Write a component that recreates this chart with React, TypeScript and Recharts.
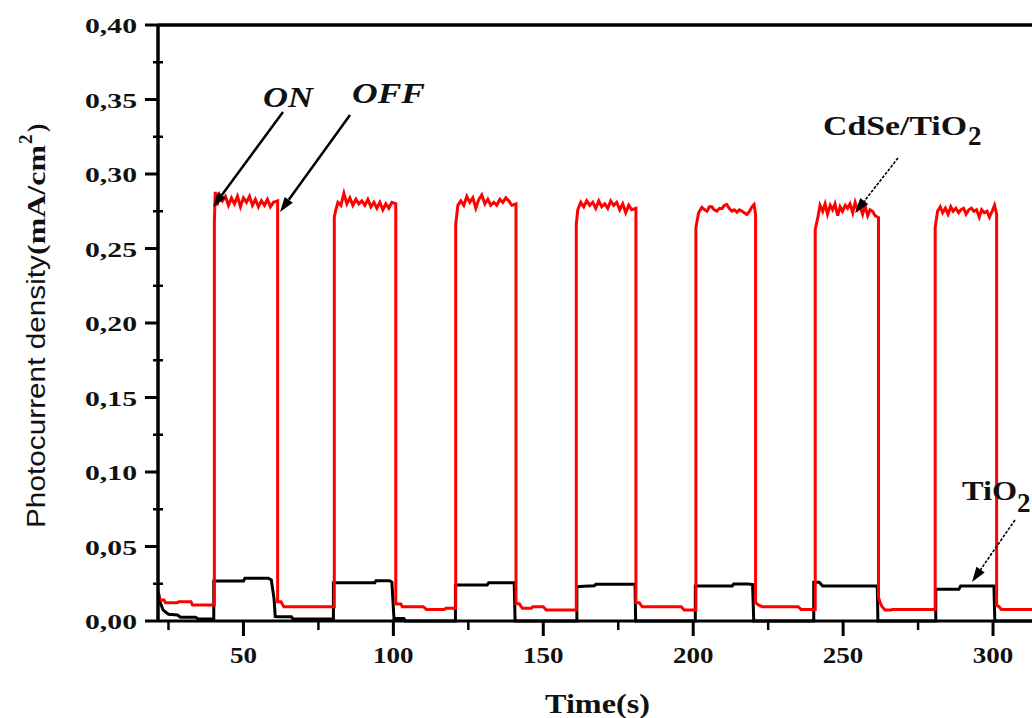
import { LineChart, Line, XAxis, YAxis, ReferenceLine } from "recharts"

type Pt = [number, number]

// axis ticks (major every 0.05 / 50 s, minor in between)
const yTicks = [0, 0.025, 0.05, 0.075, 0.1, 0.125, 0.15, 0.175, 0.2, 0.225, 0.25, 0.275, 0.3, 0.325, 0.35, 0.375, 0.4]
const xTicks = [25, 50, 75, 100, 125, 150, 175, 200, 225, 250, 275, 300]

// CdSe/TiO2 photocurrent (red), light on 40-60, 80-100, ... 280-300 s
const cdseDark0: Pt[] = [[21.6, 0.019], [22, 0.0141], [23.5, 0.0141], [24, 0.0123], [28, 0.0123], [28.5, 0.013], [32.5, 0.013], [33, 0.0107], [40.3, 0.0107]]
const cdseOn1: Pt[] = [[40.3, 0.268], [40.6, 0.288], [41.2, 0.279], [42, 0.286], [43, 0.282], [44, 0.285], [45, 0.279], [46, 0.284], [47, 0.28], [48, 0.285], [49, 0.278], [50, 0.284], [51, 0.281], [52, 0.285], [53, 0.279], [54, 0.283], [55, 0.278], [56, 0.282], [57, 0.279], [58, 0.283], [59, 0.278], [60, 0.281], [61.4, 0.282]]
const cdseDark1: Pt[] = [[61.4, 0.013], [62.5, 0.013], [63.5, 0.0096], [80.3, 0.0096]]
const cdseOn2: Pt[] = [[80.3, 0.271], [80.8, 0.276], [81.5, 0.281], [82.5, 0.279], [83.5, 0.287], [84.5, 0.28], [85.5, 0.284], [86.5, 0.279], [87.5, 0.283], [88.5, 0.28], [89.5, 0.282], [90.5, 0.279], [91.5, 0.283], [92.5, 0.278], [93.5, 0.281], [94.5, 0.277], [95.5, 0.281], [96.5, 0.276], [97.5, 0.28], [98.5, 0.277], [99.5, 0.281], [100.8, 0.28]]
const cdseDark2: Pt[] = [[100.8, 0.0114], [102.5, 0.0114], [103, 0.0096], [110, 0.0096], [111, 0.0078], [117, 0.0078], [117.5, 0.0085], [120.8, 0.0085]]
const cdseOn3: Pt[] = [[120.8, 0.266], [121.5, 0.279], [122.5, 0.282], [123.5, 0.279], [124.5, 0.285], [125.5, 0.281], [126.5, 0.284], [127.5, 0.277], [128.5, 0.283], [129.5, 0.286], [130.5, 0.28], [131.5, 0.283], [132.5, 0.279], [133.5, 0.281], [134.5, 0.279], [135.5, 0.283], [136.5, 0.281], [137.5, 0.284], [138.5, 0.282], [139.5, 0.279], [140.9, 0.28]]
const cdseDark3: Pt[] = [[140.9, 0.0116], [142, 0.0116], [143, 0.0085], [146, 0.0085], [146.5, 0.0096], [150, 0.0096], [151, 0.0074], [161, 0.0074]]
const cdseOn4: Pt[] = [[161, 0.266], [161.5, 0.276], [162.5, 0.281], [163.5, 0.278], [164.5, 0.282], [165.5, 0.279], [166.5, 0.281], [167.5, 0.277], [168.5, 0.282], [169.5, 0.278], [170.5, 0.28], [171.5, 0.277], [172.5, 0.282], [173.5, 0.279], [174.5, 0.281], [175.5, 0.276], [176.5, 0.28], [177.5, 0.274], [178.5, 0.279], [179.5, 0.276], [180.9, 0.277]]
const cdseDark4: Pt[] = [[180.9, 0.0123], [182, 0.0123], [183, 0.0096], [196, 0.0096], [197, 0.0074], [200.9, 0.0074]]
const cdseOn5: Pt[] = [[200.9, 0.264], [201.8, 0.274], [202.9, 0.2776], [203.8, 0.276], [204.6, 0.2751], [205.4, 0.278], [206.2, 0.278], [207, 0.276], [207.9, 0.2751], [208.8, 0.277], [209.6, 0.2767], [210.4, 0.279], [211.2, 0.2795], [212, 0.277], [212.9, 0.2751], [213.7, 0.276], [214.6, 0.2744], [215.4, 0.276], [216.2, 0.2751], [217, 0.274], [217.9, 0.2728], [218.8, 0.275], [219.6, 0.278], [220.3, 0.2795], [220.8, 0.2728]]
const cdseDark5: Pt[] = [[220.8, 0.0123], [222, 0.0105], [223, 0.0096], [235, 0.0096], [236, 0.0078], [240.7, 0.0078]]
const cdseOn6: Pt[] = [[240.7, 0.263], [241.5, 0.27], [242.3, 0.279], [243.2, 0.275], [244, 0.28], [244.8, 0.273], [245.7, 0.279], [246.5, 0.276], [247.3, 0.28], [248.2, 0.272], [249, 0.278], [249.8, 0.275], [250.7, 0.279], [251.5, 0.277], [252.3, 0.28], [253.2, 0.274], [254, 0.281], [254.8, 0.276], [255.7, 0.278], [256.5, 0.273], [257.3, 0.279], [258.2, 0.272], [259, 0.276], [259.8, 0.275], [260.7, 0.272], [261.8, 0.2707]]
const cdseDark6: Pt[] = [[261.8, 0.016], [262.3, 0.0125], [263, 0.0096], [264, 0.0074], [266, 0.0074], [266.5, 0.0078], [280.7, 0.0078]]
const cdseOn7: Pt[] = [[280.7, 0.264], [281.5, 0.275], [282.4, 0.278], [283.2, 0.274], [284.1, 0.277], [285, 0.273], [285.9, 0.278], [286.7, 0.275], [287.6, 0.277], [288.5, 0.274], [289.3, 0.276], [290.2, 0.277], [291, 0.273], [291.9, 0.276], [292.8, 0.277], [293.6, 0.275], [294.5, 0.276], [295.4, 0.271], [296.2, 0.276], [297.1, 0.274], [298, 0.275], [298.8, 0.271], [299.7, 0.275], [300.5, 0.279], [301.2, 0.273]]
const cdseDark7: Pt[] = [[301.2, 0.0105], [302, 0.0096], [302.8, 0.0078], [320, 0.0078]]

// bare TiO2 photocurrent (black)
const tioDark0: Pt[] = [[21.6, 0.0197], [22.3, 0.012], [23.2, 0.0074], [24, 0.006], [25, 0.0045], [28, 0.004], [29, 0.0025], [34, 0.0025], [35, 0.0013], [40.1, 0.0013]]
const tioCycle1: Pt[] = [[40.1, 0.0268], [50, 0.0268], [50.5, 0.0287], [58.3, 0.0287], [59.3, 0.0275], [60.2, 0.015], [60.6, 0.003], [62, 0.0029], [66, 0.0029], [66.5, 0.0013], [80, 0.0013]]
const tioCycle2: Pt[] = [[80, 0.0257], [93.8, 0.0257], [94.2, 0.027], [98.8, 0.027], [99.5, 0.026], [100.2, 0.0017], [103.5, 0.0017], [104, 0], [120.7, 0]]
const tioCycle3: Pt[] = [[120.7, 0.0242], [131.3, 0.0242], [131.8, 0.0257], [140.3, 0.0257], [140.6, 0], [161.2, 0]]
const tioCycle4: Pt[] = [[161.2, 0.0226], [162, 0.0232], [167, 0.0236], [167.5, 0.0246], [180.6, 0.0246], [180.8, 0], [200.7, 0]]
const tioCycle5: Pt[] = [[200.7, 0.0235], [213, 0.0235], [213.5, 0.0248], [218.3, 0.0248], [219.8, 0.0245], [220.2, 0], [240.2, 0]]
const tioCycle6: Pt[] = [[240.2, 0.026], [242, 0.026], [243.2, 0.0235], [261.4, 0.0235], [261.6, 0], [280.9, 0]]
const tioCycle7: Pt[] = [[280.9, 0.0213], [288.6, 0.0213], [289.2, 0.0235], [300.3, 0.0235], [300.6, 0], [320, 0]]

const toRows = (pts: Pt[]) => pts.map(([t, v]) => ({ t, v }))

const cdseData = toRows([
  ...cdseDark0, ...cdseOn1, ...cdseDark1, ...cdseOn2, ...cdseDark2, ...cdseOn3, ...cdseDark3, ...cdseOn4,
  ...cdseDark4, ...cdseOn5, ...cdseDark5, ...cdseOn6, ...cdseDark6, ...cdseOn7, ...cdseDark7,
])
const tioData = toRows([
  ...tioDark0, ...tioCycle1, ...tioCycle2, ...tioCycle3, ...tioCycle4, ...tioCycle5, ...tioCycle6, ...tioCycle7,
])

const serif = "'Liberation Serif', 'Times New Roman', serif"
const sans = "'Liberation Sans', Arial, sans-serif"
const ink = "#111"

function YTick(props: any) {
  const { x, y, payload } = props
  const v = payload.value as number
  const major = Math.round(v * 1000) % 50 === 0
  if (!major) {
    return <line x1={x - 5} x2={x + 5} y1={y} y2={y} stroke="#000" strokeWidth={2.5} />
  }
  return (
    <g>
      <line x1={x - 13} x2={x} y1={y} y2={y} stroke="#000" strokeWidth={3} />
      <text
        x={x - 21}
        y={y + 8}
        textAnchor="end"
        fontFamily={serif}
        fontWeight="bold"
        fontSize={22}
        fill={ink}
        textLength={52}
        lengthAdjust="spacingAndGlyphs"
      >
        {v.toFixed(2).replace(".", ",")}
      </text>
    </g>
  )
}

function XTick(props: any) {
  const { x, y, payload } = props
  const v = payload.value as number
  const major = v % 50 === 0
  if (!major) {
    return <line x1={x} x2={x} y1={y} y2={y + 9} stroke="#000" strokeWidth={2.5} />
  }
  const label = String(v)
  return (
    <g>
      <line x1={x} x2={x} y1={y} y2={y + 15} stroke="#000" strokeWidth={3} />
      <text
        x={x}
        y={y + 42}
        textAnchor="middle"
        fontFamily={serif}
        fontWeight="bold"
        fontSize={24}
        fill={ink}
        textLength={label.length * 13.5}
        lengthAdjust="spacingAndGlyphs"
      >
        {label}
      </text>
    </g>
  )
}

function Arrow({ x1, y1, x2, y2, w = 2.5, dash }: { x1: number; y1: number; x2: number; y2: number; w?: number; dash?: string }) {
  const a = Math.atan2(y2 - y1, x2 - x1)
  const L = 15
  const H = 5
  const bx = x2 - L * Math.cos(a)
  const by = y2 - L * Math.sin(a)
  const px = -Math.sin(a) * H
  const py = Math.cos(a) * H
  return (
    <g>
      <line x1={x1} y1={y1} x2={bx} y2={by} stroke="#000" strokeWidth={w} strokeDasharray={dash} />
      <polygon points={`${x2},${y2} ${bx + px},${by + py} ${bx - px},${by - py}`} fill="#000" />
    </g>
  )
}

function Annotations() {
  const bold = { fontFamily: serif, fontWeight: "bold" as const, fill: ink }
  return (
    <svg width={1032} height={718} style={{ position: "absolute", left: 0, top: 0, pointerEvents: "none" }}>
      {/* y axis title */}
      <g transform="translate(45,528) rotate(-90)">
        <text x={0} y={0} fontFamily={sans} fontSize={25} fill={ink} textLength={273} lengthAdjust="spacingAndGlyphs">
          Photocurrent density
        </text>
        <text x={273} y={0} {...bold} fontSize={25} textLength={110} lengthAdjust="spacingAndGlyphs">
          (mA/cm
        </text>
        <text x={384} y={-13} {...bold} fontSize={19}>
          2
        </text>
        <text x={396} y={0} {...bold} fontSize={25}>
          )
        </text>
      </g>
      {/* x axis title */}
      <text x={545} y={713} {...bold} fontSize={28} textLength={105} lengthAdjust="spacingAndGlyphs">
        Time(s)
      </text>

      <text x={263} y={107} {...bold} fontStyle="italic" fontSize={29} textLength={50} lengthAdjust="spacingAndGlyphs">
        ON
      </text>
      <text x={352} y={103} {...bold} fontStyle="italic" fontSize={29} textLength={73} lengthAdjust="spacingAndGlyphs">
        OFF
      </text>
      <Arrow x1={283} y1={112} x2={213} y2={207} />
      <Arrow x1={350} y1={115} x2={280} y2={212} />

      <text x={823} y={135} {...bold} fontSize={28} textLength={144} lengthAdjust="spacingAndGlyphs">
        CdSe/TiO
      </text>
      <text x={968} y={145} {...bold} fontSize={27}>
        2
      </text>
      <Arrow x1={898} y1={158} x2={855} y2={213} w={1.6} dash="3 1.5" />

      <text x={962} y={500} {...bold} fontSize={28} textLength={55} lengthAdjust="spacingAndGlyphs">
        TiO
      </text>
      <text x={1017} y={512} {...bold} fontSize={27}>
        2
      </text>
      <Arrow x1={1015} y1={520} x2={972} y2={582} w={1.6} dash="3 1.5" />
    </svg>
  )
}

export default function App() {
  return (
    <div
      style={{
        position: "fixed",
        left: 0,
        top: 0,
        width: 1032,
        height: 718,
        overflow: "hidden",
        background: "#fff",
      }}
    >
      <LineChart width={1100} height={718} margin={{ top: 25, right: 47, bottom: 37, left: 78 }}>
        <XAxis
          dataKey="t"
          type="number"
          domain={[21.5, 320]}
          allowDataOverflow
          ticks={xTicks}
          interval={0}
          tick={<XTick />}
          tickLine={false}
          tickSize={0}
          tickMargin={0}
          height={60}
          axisLine={{ stroke: "#000", strokeWidth: 3 }}
        />
        <YAxis
          type="number"
          domain={[0, 0.4]}
          ticks={yTicks}
          interval={0}
          tick={<YTick />}
          tickLine={false}
          tickSize={0}
          tickMargin={0}
          width={80}
          axisLine={{ stroke: "#000", strokeWidth: 3.5 }}
        />
        <ReferenceLine y={0.4} stroke="#000" strokeWidth={3.5} />
        <Line
          data={tioData}
          dataKey="v"
          type="linear"
          stroke="#000"
          strokeWidth={3}
          dot={false}
          activeDot={false}
          isAnimationActive={false}
        />
        <Line
          data={cdseData}
          dataKey="v"
          type="linear"
          stroke="#ff0000"
          strokeWidth={3}
          dot={false}
          activeDot={false}
          isAnimationActive={false}
        />
      </LineChart>
      <Annotations />
    </div>
  )
}
